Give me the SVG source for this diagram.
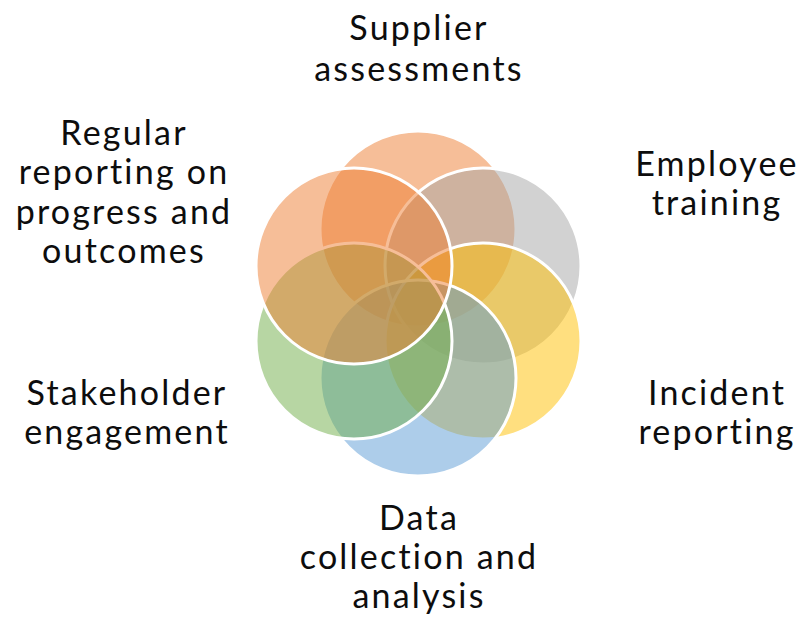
<svg xmlns="http://www.w3.org/2000/svg" width="812" height="617" viewBox="0 0 812 617">
<style>
.c{stroke:#fff;stroke-width:3;fill-opacity:0.5}
.t{font-family:Lato,"Open Sans","Liberation Sans",sans-serif;font-size:34px;letter-spacing:2.2px;fill:#0d0d0d;text-anchor:middle}
</style>
<rect width="812" height="617" fill="#fff"/>
<g id="circles">
<g id="c1"><circle class="c" cx="418" cy="229" r="98" fill="#ED7D31"/></g>
<g id="c2"><circle class="c" cx="483" cy="266" r="98" fill="#A5A5A5"/></g>
<g id="c3"><circle class="c" cx="483" cy="341" r="98" fill="#FFC000"/></g>
<g id="c4"><circle class="c" cx="418" cy="378" r="98" fill="#5B9BD5"/></g>
<g id="c5"><circle class="c" cx="354" cy="341" r="98" fill="#70AD47"/></g>
<g id="c6"><circle class="c" cx="354" cy="266" r="98" fill="#ED7D31"/></g>
</g>
<g id="labels">
<g id="l1"><text class="t" x="419" y="40">Supplier</text><text class="t" x="419" y="81">assessments</text></g>
<g id="l2"><text class="t" x="717" y="176">Employee</text><text class="t" x="717" y="215">training</text></g>
<g id="l3"><text class="t" x="717" y="405">Incident</text><text class="t" x="717" y="444">reporting</text></g>
<g id="l4"><text class="t" x="419" y="530">Data</text><text class="t" x="419" y="569">collection and</text><text class="t" x="419" y="608">analysis</text></g>
<g id="l5"><text class="t" x="127" y="405">Stakeholder</text><text class="t" x="127" y="444">engagement</text></g>
<g id="l6"><text class="t" x="124" y="145">Regular</text><text class="t" x="124" y="184">reporting on</text><text class="t" x="124" y="224">progress and</text><text class="t" x="124" y="263">outcomes</text></g>
</g>
</svg>
